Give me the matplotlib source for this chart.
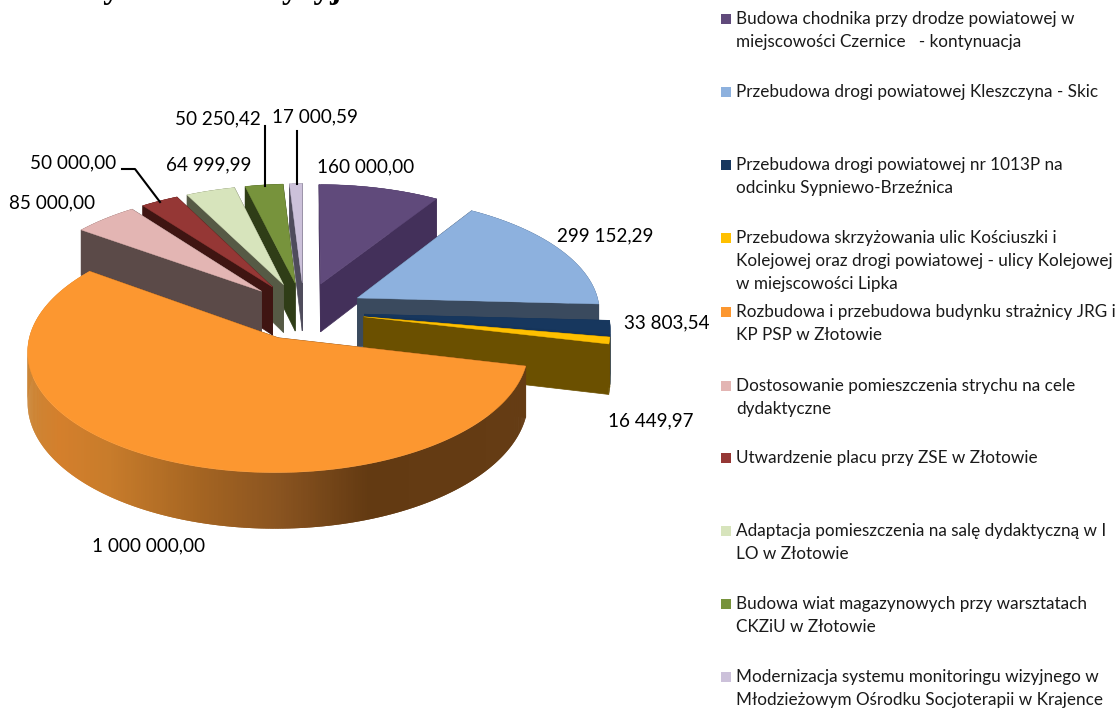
#!/usr/bin/env python3
# -*- coding: utf-8 -*-
"""Exploded 3D pie with an irregularly spaced legend, saved to out.png"""
import numpy as np
import matplotlib
matplotlib.use('Agg')
import matplotlib.pyplot as plt
from matplotlib.colors import to_rgb
from matplotlib.patches import Polygon, Rectangle

plt.rcParams['font.family'] = ['Lato', 'DejaVu Sans']

'''-------    DATA     -------'''
values = [160000.00, 299152.29, 33803.54, 16449.97, 1000000.00,
          85000.00, 50000.00, 64999.99, 50250.42, 17000.59]
value_labels = ["160 000,00", "299 152,29", "33 803,54", "16 449,97", "1 000 000,00",
                "85 000,00", "50 000,00", "64 999,99", "50 250,42", "17 000,59"]
names = ["Budowa chodnika przy drodze powiatowej w\nmiejscowości Czernice   - kontynuacja",
         "Przebudowa drogi powiatowej Kleszczyna - Skic",
         "Przebudowa drogi powiatowej nr 1013P na\nodcinku Sypniewo-Brzeźnica",
         "Przebudowa skrzyżowania ulic Kościuszki i\nKolejowej oraz drogi powiatowej - ulicy Kolejowej\nw miejscowości Lipka",
         "Rozbudowa i przebudowa budynku strażnicy JRG i\nKP PSP w Złotowie",
         "Dostosowanie pomieszczenia strychu na cele\ndydaktyczne",
         "Utwardzenie placu przy ZSE w Złotowie",
         "Adaptacja pomieszczenia na salę dydaktyczną w I\nLO w Złotowie",
         "Budowa wiat magazynowych przy warsztatach\nCKZiU w Złotowie",
         "Modernizacja systemu monitoringu wizyjnego w\nMłodzieżowym Ośrodku Socjoterapii w Krajence"]

'''-------    STYLE / LAYOUT     -------'''
top_colors = ["#604a7b", "#8db1de", "#17375e", "#ffc000", "#fc9730",
              "#e3b5b3", "#953735", "#d7e4bc", "#77933c", "#ccc1da"]
side_colors = ["#43305a", "#3a4a5e", "#15345a", "#6b5000", "#6b3c12",
               "#5b4a48", "#3f1512", "#565a45", "#2f3d17", "#4f4c5c"]
# orange rim shading, left to right across the picture
rim_x = [30, 60, 110, 200, 280, 370, 525]
rim_colors = ["#cc8535", "#d47f2c", "#c87c2b", "#a56522", "#8a5420", "#633a12", "#653c14"]

label_x = [366, 605, 667, 651, 148, 52, 73, 209, 218, 315]
label_y = [167, 236, 323, 421, 546, 203, 163, 165, 119, 117]
legend_y = [19, 92, 165, 238, 312, 386, 458, 531, 604, 677]
# back to front
draw_order = [0, 9, 8, 7, 6, 5, 1, 2, 3, 4]

cx, cy = 304, 311
R, r, D = 243, 115, 49
k = 0.103
explode = 0.25


def project(px, py, z=0.0):
    s = 1.0 / (1.0 + k * py)
    return cx + R * px * s, cy - r * py * s + D * z * s


def draw_slice(ax, a0, a1, top, side, shaded):
    mid = np.radians((a0 + a1) / 2.0)
    ox, oy = explode * np.sin(mid), explode * np.cos(mid)
    th = np.radians(np.linspace(a0, a1, max(int(a1 - a0) * 2, 4)))
    px, py = ox + np.sin(th), oy + np.cos(th)

    # radial walls
    for i in (0, -1):
        pts = [project(ox, oy), project(px[i], py[i]),
               project(px[i], py[i], 1), project(ox, oy, 1)]
        ax.add_patch(Polygon(pts, closed=True, fc=side, ec=side, lw=0.5))

    # outer rim in small overlapping strips, so it can be shaded without seams
    for i in range(len(th) - 1):
        col = side
        if shaded:
            x = project(px[i], py[i])[0]
            col = [np.interp(x, rim_x, [to_rgb(c)[j] for c in rim_colors]) for j in range(3)]
        n = min(i + 2, len(th) - 1)
        pts = [project(px[i], py[i]), project(px[n], py[n]),
               project(px[n], py[n], 1), project(px[i], py[i], 1)]
        ax.add_patch(Polygon(pts, closed=True, fc=col, ec='none'))

    # top face
    pts = [project(ox, oy)] + [project(a, b) for a, b in zip(px, py)]
    ax.add_patch(Polygon(pts, closed=True, fc=top, ec=top, lw=0.3))


'''-------    main     -------'''
fig = plt.figure(figsize=(11.2, 7.09), dpi=100)
ax = fig.add_axes([0, 0, 1, 1])
ax.set_xlim(0, 1120)
ax.set_ylim(709, 0)
ax.axis('off')

angles = np.concatenate(([0], np.cumsum(values) / np.sum(values) * 360.0))
for i in draw_order:
    draw_slice(ax, angles[i], angles[i + 1], top_colors[i], side_colors[i], i == 4)

# value labels and leader lines
for txt, x, y in zip(value_labels, label_x, label_y):
    ax.text(x, y, txt, ha='center', va='center', fontsize=13.6, color='black')
ax.plot([122, 135, 160], [169, 169, 202], color='black', lw=1.5)
ax.plot([265, 265], [126, 186], color='black', lw=1.5)
ax.plot([297, 297], [131, 184], color='black', lw=1.5)

# legend
for name, col, y in zip(names, top_colors, legend_y):
    ax.add_patch(Rectangle((721, y - 5), 10, 10, fc=col, ec='none'))
    for j, line in enumerate(name.split("\n")):
        ax.text(736, y + 23 * j, line, ha='left', va='center', fontsize=12.3, color='#1a1a1a')

# chart title, cut off by the top edge of the picture
title_font = dict(family='Liberation Serif', weight='bold', fontsize=24, ha='left', va='baseline', clip_on=False)
ax.text(71, -2, "Wydatki", **title_font)
ax.text(191, -2, "inwestycyjne", **title_font)

fig.savefig("out.png", dpi=100)
